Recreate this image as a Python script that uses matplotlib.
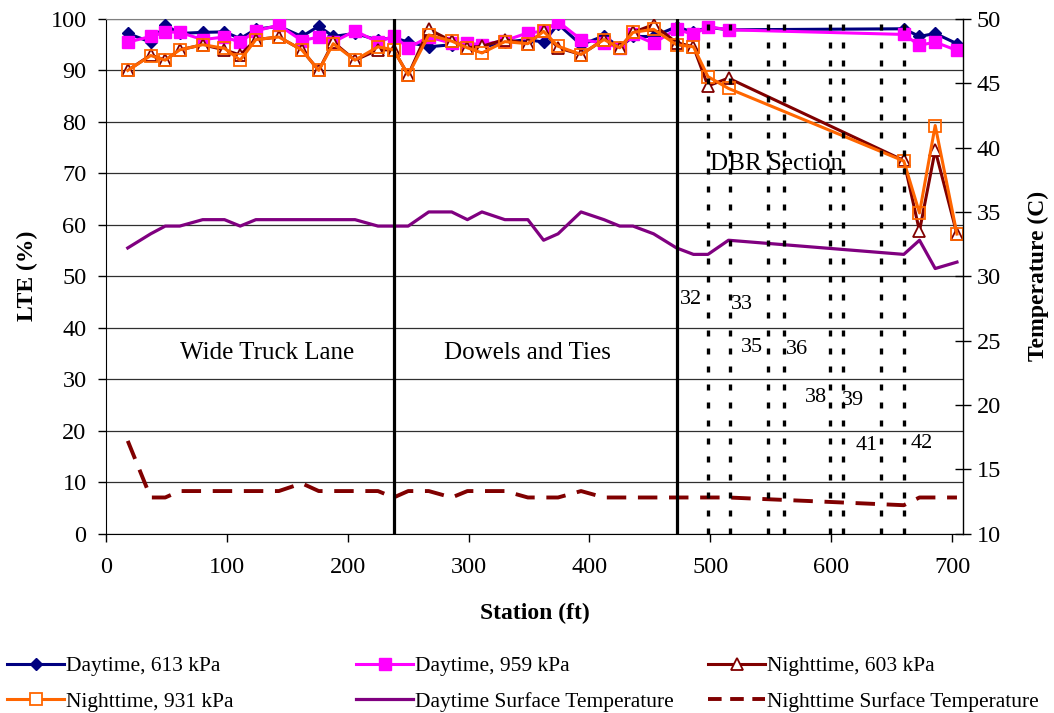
import matplotlib
matplotlib.use("Agg")
import matplotlib.pyplot as plt
from matplotlib.lines import Line2D

plt.rcParams["font.family"] = ["Liberation Serif", "DejaVu Serif"]

# station of each test point (ft)
station = [18, 37, 49, 61, 80, 98, 111, 124, 143, 162, 176, 188, 206, 225, 238,
           250, 267, 286, 299, 311, 330, 349, 362, 374, 393, 412, 425, 436, 453,
           472, 486, 498, 515, 660, 673, 686, 704]

# load transfer efficiency (%)
day_613 = [97.2, 95.5, 98.8, 97.2, 97.4, 97.5, 96.2, 98.0, 98.6, 96.6, 98.6, 96.6,
           97.2, 95.9, 96.4, 95.5, 94.6, 95.0, 95.0, 94.5, 95.5, 96.0, 95.5, 99.0,
           95.0, 96.7, 94.5, 96.6, 96.6, 98.5, 97.4, 98.4, 97.9, 98.1, 96.6, 97.2, 95.2]
day_959 = [95.5, 96.6, 97.5, 97.4, 96.0, 96.5, 95.5, 97.7, 98.8, 95.8, 96.5, 95.5,
           97.7, 95.5, 96.7, 94.4, 96.5, 95.3, 95.3, 95.0, 95.8, 97.3, 97.6, 99.5,
           96.0, 95.3, 94.4, 97.0, 95.3, 98.0, 97.0, 98.5, 97.9, 97.0, 94.9, 95.5, 93.9]
night_603 = [90.0, 93.0, 92.0, 94.0, 95.0, 94.0, 93.0, 96.0, 96.5, 94.0, 90.0, 95.5,
             92.0, 94.0, 94.0, 89.1, 98.0, 95.7, 94.4, 94.7, 96.0, 95.2, 97.6, 94.4,
             93.1, 96.0, 94.4, 97.4, 98.9, 95.4, 94.6, 87.0, 88.5, 72.5, 58.8, 74.5, 58.2]
night_931 = [90.0, 92.9, 92.0, 94.0, 95.0, 94.3, 92.0, 96.0, 96.5, 94.0, 90.0, 95.2,
             92.0, 94.6, 94.0, 89.1, 96.9, 95.7, 94.4, 93.4, 95.6, 95.2, 97.6, 94.7,
             93.1, 96.0, 94.4, 97.4, 98.0, 95.0, 94.6, 88.8, 86.5, 72.4, 62.3, 79.3, 58.2]

# pavement surface temperature (C)
day_temp = [32.2, 33.3, 33.9, 33.9, 34.4, 34.4, 33.9, 34.4, 34.4, 34.4, 34.4, 34.4,
            34.4, 33.9, 33.9, 33.9, 35.0, 35.0, 34.4, 35.0, 34.4, 34.4, 32.8, 33.3,
            35.0, 34.4, 33.9, 33.9, 33.3, 32.2, 31.7, 31.7, 32.8, 31.7, 32.8, 30.6, 31.1]
night_temp = [17.2, 12.8, 12.8, 13.3, 13.3, 13.3, 13.3, 13.3, 13.3, 13.9, 13.3, 13.3,
              13.3, 13.3, 12.8, 13.3, 13.3, 12.8, 13.3, 13.3, 13.3, 12.8, 12.8, 12.8,
              13.3, 12.8, 12.8, 12.8, 12.8, 12.8, 12.8, 12.8, 12.8, 12.2, 12.8, 12.8, 12.8]

# section boundaries and DBR joint locations (ft)
section_bounds = [238, 472]
dbr_joints = [498, 516, 548, 561, 599, 610, 641, 660]
joint_labels = ["32", "33", "35", "36", "38", "39", "41", "42"]
joint_label_xy = [(484, 45.4), (526.5, 44.6), (534.5, 36.2), (572, 35.8),
                  (587.5, 26.5), (618, 25.9), (629, 17.1), (674.5, 17.5)]
sections = ["Wide Truck Lane", "Dowels and Ties", "DBR Section"]
section_xy = [(133.5, 35.0), (348.5, 35.0), (554.5, 71.8)]

W, H = 1054, 713
fig = plt.figure(figsize=(W / 100, H / 100), dpi=100)
ax = fig.add_axes([106 / W, 1 - 533.5 / H, (963 - 106) / W, (533.5 - 19) / H])
ax2 = ax.twinx()

NAVY, MAGENTA, MAROON, ORANGE, PURPLE = "#000080", "#FF00FF", "#800000", "#FF6600", "#800080"

ax.plot(station, day_613, color=NAVY, lw=2.2, marker="D", ms=6, mec=NAVY, mfc=NAVY, zorder=3)
ax.plot(station, day_959, color=MAGENTA, lw=2.2, marker="s", ms=9, mec=MAGENTA, mfc=MAGENTA, zorder=4)
ax.plot(station, night_603, color=MAROON, lw=2.2, marker="^", ms=9, mec=MAROON, mfc="white",
        mew=1.3, zorder=5)
ax.plot(station, night_931, color=ORANGE, lw=2.2, marker="s", ms=9, mec=ORANGE, mfc="none",
        mew=1.3, zorder=6)

ax2.plot(station, day_temp, color=PURPLE, lw=2.3, zorder=2)
ax2.plot(station, night_temp, color=MAROON, lw=2.8, dashes=(5, 3), zorder=2)

for x in section_bounds:
    ax2.axvline(x, color="black", lw=2.3, zorder=8)
for x in dbr_joints:
    ax2.axvline(x, color="black", lw=2.4, dashes=(1.8, 3.6), zorder=8)

for lab, (x, y) in zip(joint_labels, joint_label_xy):
    ax.text(x, y, lab, fontsize=16, ha="center", va="center", zorder=9)
for lab, (x, y) in zip(sections, section_xy):
    ax.text(x, y, lab, fontsize=18, ha="center", va="center", zorder=9)

ax.set_xlim(0, 709)
ax.set_ylim(0, 100)
ax2.set_ylim(10, 50)
ax.set_xticks(range(0, 701, 100))
ax.set_yticks(range(0, 101, 10))
ax2.set_yticks(range(10, 51, 5))
ax.yaxis.grid(True, color="#303030", lw=0.9)
ax.set_axisbelow(True)

ax.tick_params(axis="both", labelsize=17.5, direction="out", length=6, width=1)
ax.tick_params(axis="x", pad=11)
ax.tick_params(axis="y", pad=8)
ax2.tick_params(axis="y", labelsize=17.5, direction="inout", length=12, width=1, pad=4)

ax.spines["top"].set_color("#808080")
ax.spines["right"].set_visible(False)
for s in ["top", "left", "bottom"]:
    ax2.spines[s].set_visible(False)
ax2.spines["right"].set_linewidth(1)

ax.set_xlabel("Station (ft)", fontsize=17, fontweight="bold", labelpad=18)
ax.set_ylabel("LTE (%)", fontsize=17, fontweight="bold", labelpad=9)
ax2.set_ylabel("Temperature (C)", fontsize=17, fontweight="bold", labelpad=19)

# legend laid out as three columns of two entries
h_d613 = Line2D([], [], color=NAVY, lw=2.2, marker="D", ms=6, mfc=NAVY, mec=NAVY)
h_d959 = Line2D([], [], color=MAGENTA, lw=2.2, marker="s", ms=9, mfc=MAGENTA, mec=MAGENTA)
h_n603 = Line2D([], [], color=MAROON, lw=2.2, marker="^", ms=9, mfc="white", mec=MAROON, mew=1.3)
h_n931 = Line2D([], [], color=ORANGE, lw=2.2, marker="s", ms=8, mfc="white", mec=ORANGE, mew=1.3)
h_dt = Line2D([], [], color=PURPLE, lw=2.3)
h_nt = Line2D([], [], color=MAROON, lw=2.8, dashes=(3.5, 2.2))

columns = [
    (7, [h_d613, h_n931], ["Daytime, 613 kPa", "Nighttime, 931 kPa"]),
    (356, [h_d959, h_dt], ["Daytime, 959 kPa", "Daytime Surface Temperature"]),
    (708, [h_n603, h_nt], ["Nighttime, 603 kPa", "Nighttime Surface Temperature"]),
]
for x0, handles, labels in columns:
    fig.legend(handles, labels, loc="upper left", bbox_to_anchor=(x0 / W, 1 - 656 / H),
               frameon=False, fontsize=15.5, handlelength=2.65, handletextpad=0.1,
               borderpad=0, borderaxespad=0, labelspacing=0.72)

fig.savefig("out.png", dpi=100)
